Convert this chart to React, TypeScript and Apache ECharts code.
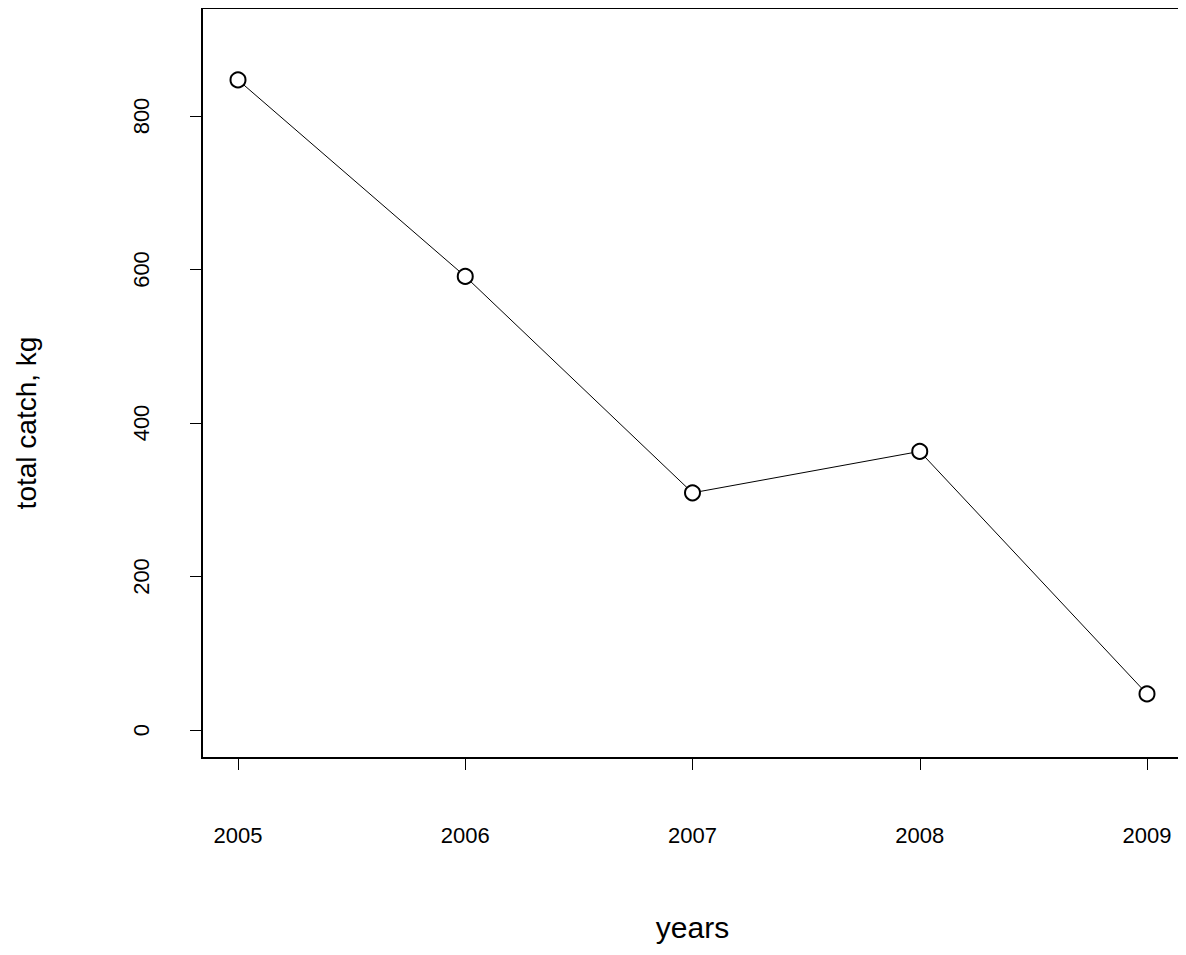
import { useEffect, useRef } from "react";
import * as echarts from "echarts";

const years = [2005, 2006, 2007, 2008, 2009];
const catchKg = [847, 591, 309, 363, 47];

const App = () => {
  const chartRef = useRef(null);

  useEffect(() => {
    const chart = echarts.init(chartRef.current, null, { renderer: "svg" });
    const font = "Liberation Sans, Arial, sans-serif";
    const option = {
      animation: false,
      textStyle: { fontFamily: font },
      grid: { left: 238, top: 116, width: 909, height: 614 },
      xAxis: {
        type: "value",
        min: 2005,
        max: 2009,
        interval: 1,
        offset: 28,
        name: "years",
        nameLocation: "middle",
        nameGap: 154,
        nameTextStyle: { color: "#000", fontSize: 30, fontFamily: font },
        axisLine: { onZero: false, lineStyle: { color: "#000", width: 1 } },
        axisTick: { length: 12, lineStyle: { color: "#000" } },
        axisLabel: { color: "#000", fontSize: 22, margin: 66, fontFamily: font, formatter: (v: number) => String(v) },
        splitLine: { show: false },
      },
      yAxis: {
        type: "value",
        min: 0,
        max: 800,
        interval: 200,
        offset: 36,
        name: "total catch, kg",
        nameLocation: "middle",
        nameGap: 162,
        nameTextStyle: { color: "#000", fontSize: 28, fontFamily: font },
        axisLine: { show: true, onZero: false, lineStyle: { color: "#000", width: 1 } },
        axisTick: { show: true, length: 12, lineStyle: { color: "#000" } },
        axisLabel: { color: "#000", fontSize: 22, margin: 50, rotate: 90, fontFamily: font },
        splitLine: { show: false },
      },
      graphic: [
        {
          type: "rect",
          shape: { x: 202, y: 8, width: 981, height: 750 },
          style: { fill: "none", stroke: "#000", lineWidth: 2 },
        },
      ],
      series: [
        {
          type: "line",
          clip: false,
          data: years.map((y, i) => [y, catchKg[i]]),
          symbol: "emptyCircle",
          symbolSize: 15,
          lineStyle: { color: "#000", width: 1 },
          itemStyle: { color: "#000", borderColor: "#000", borderWidth: 2 },
        },
      ],
    };
    chart.setOption(option);
    return () => {
      chart.dispose();
    };
  }, []);

  return <div ref={chartRef} style={{ width: 1186, height: 955, margin: -8 }} />;
};

export default App;
